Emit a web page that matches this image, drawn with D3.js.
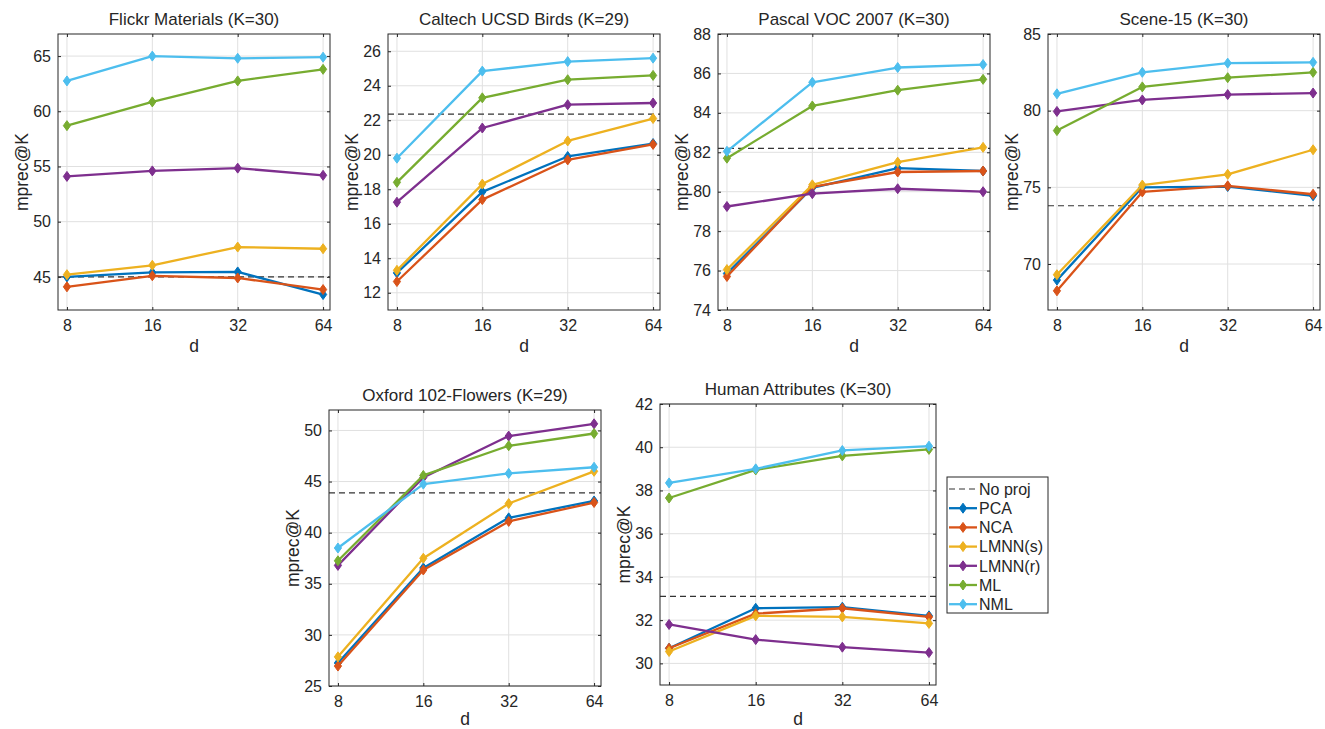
<!DOCTYPE html>
<html>
<head>
<meta charset="utf-8">
<script src="https://cdn.jsdelivr.net/npm/d3@7"></script>
<style>
  body { margin: 0; background: #fff; }
  svg text { font-family: "Liberation Sans", Arial, sans-serif; fill: #262626; }
</style>
</head>
<body>
<svg id="fig" width="1325" height="729"></svg>
<script>
// x values (projection dimension d)
var dims = [8, 16, 32, 64];
var methods = ['PCA', 'NCA', 'LMNN(s)', 'LMNN(r)', 'ML', 'NML'];
var method_colors = ['#0072BD', '#D95319', '#EDB120', '#7E2F8E', '#77AC30', '#4DBEEE'];

// scores per dataset, rows follow `methods`
var flickr_scores = [
    [45.0, 45.4, 45.45, 43.4],
    [44.1, 45.1, 44.9, 43.85],
    [45.2, 46.05, 47.7, 47.55],
    [54.1, 54.6, 54.85, 54.2],
    [58.7, 60.85, 62.75, 63.8],
    [62.75, 65.0, 64.8, 64.9]
];
var flickr_noproj = 45.0;
var flickr_yticks = [45, 50, 55, 60, 65];

var birds_scores = [
    [13.15, 17.85, 19.9, 20.65],
    [12.65, 17.4, 19.7, 20.6],
    [13.3, 18.3, 20.8, 22.1],
    [17.25, 21.55, 22.9, 23.0],
    [18.4, 23.3, 24.35, 24.6],
    [19.8, 24.85, 25.4, 25.6]
];
var birds_noproj = 22.35;
var birds_yticks = [12, 14, 16, 18, 20, 22, 24, 26];

var voc_scores = [
    [75.85, 80.2, 81.2, 81.05],
    [75.7, 80.25, 81.0, 81.05],
    [76.05, 80.35, 81.5, 82.25],
    [79.25, 79.9, 80.15, 80.0],
    [81.7, 84.35, 85.15, 85.7],
    [82.05, 85.55, 86.3, 86.45]
];
var voc_noproj = 82.2;
var voc_yticks = [74, 76, 78, 80, 82, 84, 86, 88];

var scene_scores = [
    [68.95, 75.0, 75.05, 74.45],
    [68.25, 74.7, 75.1, 74.55],
    [69.3, 75.15, 75.85, 77.45],
    [79.95, 80.7, 81.05, 81.15],
    [78.7, 81.55, 82.15, 82.5],
    [81.1, 82.5, 83.1, 83.15]
];
var scene_noproj = 73.8;
var scene_yticks = [70, 75, 80, 85];

var flowers_scores = [
    [27.25, 36.55, 41.45, 43.1],
    [26.95, 36.35, 41.1, 42.95],
    [27.85, 37.5, 42.85, 46.0],
    [36.8, 45.4, 49.45, 50.65],
    [37.25, 45.6, 48.5, 49.7],
    [38.5, 44.75, 45.8, 46.4]
];
var flowers_noproj = 43.9;
var flowers_yticks = [25, 30, 35, 40, 45, 50];

var human_scores = [
    [30.7, 32.55, 32.6, 32.2],
    [30.7, 32.3, 32.55, 32.15],
    [30.55, 32.2, 32.15, 31.85],
    [31.8, 31.1, 30.75, 30.5],
    [37.65, 38.95, 39.6, 39.9],
    [38.35, 39.0, 39.85, 40.05]
];
var human_noproj = 33.1;
var human_yticks = [30, 32, 34, 36, 38, 40, 42];

var panels = [
    {title: 'Flickr Materials (K=30)', scores: flickr_scores, noproj: flickr_noproj, yticks: flickr_yticks, ydom: [42, 67], box: [58, 34, 272, 276]},
    {title: 'Caltech UCSD Birds (K=29)', scores: birds_scores, noproj: birds_noproj, yticks: birds_yticks, ydom: [11, 27], box: [388, 34, 272, 276]},
    {title: 'Pascal VOC 2007 (K=30)', scores: voc_scores, noproj: voc_noproj, yticks: voc_yticks, ydom: [74, 88], box: [718, 34, 272, 276]},
    {title: 'Scene-15 (K=30)', scores: scene_scores, noproj: scene_noproj, yticks: scene_yticks, ydom: [67, 85], box: [1048, 34, 272, 276]},
    {title: 'Oxford 102-Flowers (K=29)', scores: flowers_scores, noproj: flowers_noproj, yticks: flowers_yticks, ydom: [25, 52], box: [329, 410, 272, 276]},
    {title: 'Human Attributes (K=30)', scores: human_scores, noproj: human_noproj, yticks: human_yticks, ydom: [29, 42], box: [660, 404, 276, 281]}
];

var svg = d3.select('#fig');
var diamond = function (cx, cy) {
    return 'M' + cx + ',' + (cy - 5) + 'L' + (cx + 3.6) + ',' + cy + 'L' + cx + ',' + (cy + 5) + 'L' + (cx - 3.6) + ',' + cy + 'Z';
};

function draw_panel(p) {
    var left = p.box[0], top = p.box[1], w = p.box[2], h = p.box[3];
    var xs = d3.scaleLog().base(2).domain([7.44, 67.7]).range([0, w]);
    var ys = d3.scaleLinear().domain(p.ydom).range([h, 0]);
    var g = svg.append('g').attr('transform', 'translate(' + left + ',' + top + ')');

    g.append('rect').attr('width', w).attr('height', h).attr('fill', '#fff');

    // grid
    g.selectAll('.vgrid').data(dims).enter().append('line')
        .attr('x1', function (d) { return xs(d); }).attr('x2', function (d) { return xs(d); })
        .attr('y1', 0).attr('y2', h)
        .attr('stroke', '#e0e0e0').attr('stroke-width', 1);
    g.selectAll('.hgrid').data(p.yticks).enter().append('line')
        .attr('y1', function (d) { return ys(d); }).attr('y2', function (d) { return ys(d); })
        .attr('x1', 0).attr('x2', w)
        .attr('stroke', '#e0e0e0').attr('stroke-width', 1);

    // axes with inward ticks on all four sides
    g.append('g').attr('transform', 'translate(0,' + h + ')')
        .call(d3.axisBottom(xs).tickValues(dims).tickFormat(d3.format('d')).tickSizeInner(-3).tickSizeOuter(0).tickPadding(10))
        .call(function (a) {
            a.select('.domain').remove();
            a.selectAll('line').attr('stroke', '#262626');
            a.selectAll('text').attr('font-size', 16).attr('fill', '#262626');
        });
    g.append('g')
        .call(d3.axisTop(xs).tickValues(dims).tickFormat('').tickSizeInner(-3).tickSizeOuter(0))
        .call(function (a) { a.select('.domain').remove(); a.selectAll('line').attr('stroke', '#262626'); });
    g.append('g')
        .call(d3.axisLeft(ys).tickValues(p.yticks).tickSizeInner(-3).tickSizeOuter(0).tickPadding(7))
        .call(function (a) {
            a.select('.domain').remove();
            a.selectAll('line').attr('stroke', '#262626');
            a.selectAll('text').attr('font-size', 16).attr('fill', '#262626');
        });
    g.append('g').attr('transform', 'translate(' + w + ',0)')
        .call(d3.axisRight(ys).tickValues(p.yticks).tickFormat('').tickSizeInner(-3).tickSizeOuter(0))
        .call(function (a) { a.select('.domain').remove(); a.selectAll('line').attr('stroke', '#262626'); });

    // no projection baseline
    g.append('line')
        .attr('x1', 0).attr('x2', w)
        .attr('y1', ys(p.noproj)).attr('y2', ys(p.noproj))
        .attr('stroke', '#333').attr('stroke-width', 1.2).attr('stroke-dasharray', '6,4');

    var line = d3.line().x(function (d, i) { return xs(dims[i]); }).y(function (d) { return ys(d); });
    p.scores.forEach(function (row, m) {
        g.append('path').datum(row)
            .attr('d', line)
            .attr('fill', 'none')
            .attr('stroke', method_colors[m])
            .attr('stroke-width', 2.3)
            .attr('stroke-linejoin', 'round');
        g.selectAll('.mk' + m).data(row).enter().append('path')
            .attr('d', function (d, i) { return diamond(xs(dims[i]), ys(d)); })
            .attr('fill', method_colors[m])
            .attr('stroke', method_colors[m])
            .attr('stroke-width', 1);
    });

    g.append('rect').attr('width', w).attr('height', h)
        .attr('fill', 'none').attr('stroke', '#262626').attr('stroke-width', 1);

    g.append('text').attr('x', w / 2).attr('y', -9).attr('text-anchor', 'middle')
        .attr('font-size', 17).text(p.title);
    // keep the x label inside the 729px page for the lower row
    g.append('text').attr('x', w / 2).attr('y', Math.min(h + 42, 725 - top)).attr('text-anchor', 'middle')
        .attr('font-size', 17.5).text('d');
    g.append('text').attr('transform', 'translate(-30,' + (h / 2) + ') rotate(-90)')
        .attr('text-anchor', 'middle').attr('font-size', 17.5).text('mprec@K');
}

panels.forEach(draw_panel);

// legend
var legend_items = ['No proj'].concat(methods);
var lg = svg.append('g').attr('transform', 'translate(947,477)');
lg.append('rect').attr('width', 101).attr('height', 136)
    .attr('fill', '#fff').attr('stroke', '#262626').attr('stroke-width', 1);
lg.selectAll('g.item').data(legend_items).enter().append('g')
    .attr('transform', function (d, i) { return 'translate(0,' + (12 + i * 19.2) + ')'; })
    .each(function (d, i) {
        var it = d3.select(this);
        if (i === 0) {
            it.append('line').attr('x1', 2).attr('x2', 30).attr('y1', 0).attr('y2', 0)
                .attr('stroke', '#333').attr('stroke-width', 1.2).attr('stroke-dasharray', '6,4');
        } else {
            var c = method_colors[i - 1];
            it.append('line').attr('x1', 2).attr('x2', 30).attr('y1', 0).attr('y2', 0)
                .attr('stroke', c).attr('stroke-width', 2.3);
            it.append('path').attr('d', diamond(16, 0)).attr('fill', c).attr('stroke', c);
        }
        it.append('text').attr('x', 32).attr('y', 0).attr('dy', '0.36em')
            .attr('font-size', 16).text(d);
    });
</script>
</body>
</html>
